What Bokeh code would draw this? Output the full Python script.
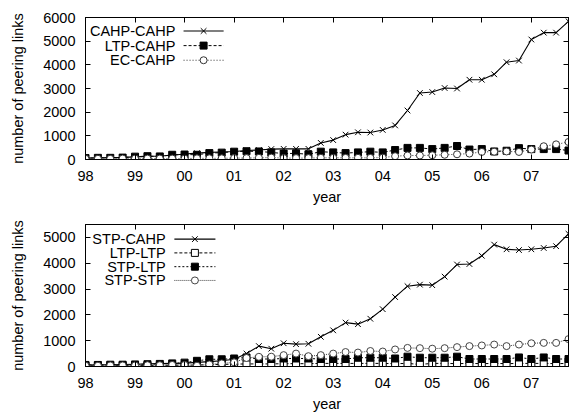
from bokeh.plotting import figure
from bokeh.layouts import column
from bokeh.models import (Range1d, FixedTicker, LinearAxis, Label,
                          CustomLabelingPolicy)
from bokeh.embed import file_html
from bokeh.resources import INLINE

# quarterly samples, 1998 .. 2007.75
quarters = [1998 + i / 4 for i in range(40)]
year_ticks = list(range(1998, 2008))
year_labels = ["98", "99", "00", "01", "02", "03", "04", "05", "06", "07"]

top_yticks = [0, 1000, 2000, 3000, 4000, 5000, 6000]
bottom_yticks = [0, 1000, 2000, 3000, 4000, 5000]

# upper panel
cahp_cahp = [60, 70, 80, 90, 110, 130, 150, 180, 230, 270,
             300, 320, 340, 380, 400, 440, 450, 450, 450, 700,
             820, 1050, 1150, 1140, 1250, 1440, 2070, 2810, 2850, 3020,
             3000, 3370, 3370, 3600, 4110, 4180, 5070, 5360, 5360, 5840]
ltp_cahp = [60, 70, 70, 80, 120, 140, 130, 200, 210, 200,
            270, 290, 330, 350, 340, 300, 250, 260, 220, 330,
            300, 270, 300, 330, 300, 400, 490, 490, 440, 490,
            570, 420, 440, 340, 370, 480, 440, 440, 440, 380]
ec_cahp = [30, 30, 30, 40, 40, 40, 40, 40, 40, 50,
           50, 50, 60, 60, 70, 80, 60, 60, 60, 70,
           70, 70, 70, 70, 80, 140, 170, 170, 180, 200,
           220, 250, 320, 330, 340, 320, 420, 560, 640, 740]

# lower panel
stp_cahp = [60, 70, 70, 80, 90, 100, 110, 120, 130, 160,
            190, 220, 280, 500, 790, 690, 900, 865, 880, 1150,
            1400, 1700, 1640, 1850, 2220, 2690, 3110, 3170, 3150, 3480,
            3950, 3970, 4290, 4720, 4540, 4510, 4540, 4590, 4660, 5140]
ltp_ltp = [30, 30, 30, 40, 40, 40, 40, 50, 50, 60,
           70, 80, 90, 100, 100, 100, 110, 110, 110, 120,
           120, 120, 120, 120, 120, 110, 120, 80, 120, 120,
           110, 120, 110, 120, 110, 120, 120, 120, 110, 120]
stp_ltp = [60, 60, 70, 70, 80, 90, 100, 120, 150, 220,
           280, 280, 310, 350, 290, 290, 310, 310, 310, 290,
           290, 290, 340, 340, 340, 310, 380, 340, 340, 340,
           380, 290, 290, 290, 290, 350, 290, 350, 290, 290]
stp_stp = [30, 30, 40, 40, 40, 50, 50, 60, 60, 30,
           80, 120, 160, 330, 375, 380, 440, 500, 400, 440,
           500, 560, 540, 600, 580, 660, 720, 710, 690, 710,
           750, 790, 815, 850, 790, 850, 900, 915, 915, 1060]

FONT = "Liberation Sans"
FS = "14.5px"

# mirrored border axes carry tick marks only, no labels
NO_LABELS = """
try { indices.clear() } catch (e) {
    for (let i = 0; i < indices.size; i++) {
        try { indices.unset(i) } catch (e2) { indices.set(i, false) }
    }
}
return indices
"""


def make_panel(ymax, yticks, border_bottom, height):
    p = figure(width=569, height=height,
               x_range=Range1d(1998, 2007.75), y_range=Range1d(0, ymax),
               min_border_left=85, min_border_right=1, min_border_top=17,
               min_border_bottom=border_bottom,
               output_backend="svg", toolbar_location=None)
    p.grid.visible = False
    p.outline_line_color = "black"
    p.background_fill_color = "white"
    p.border_fill_color = "white"

    xa = p.xaxis[0]
    xa.ticker = FixedTicker(ticks=year_ticks)
    xa.major_label_overrides = dict(zip(year_ticks, year_labels))
    xa.axis_label = "year"
    xa.axis_label_standoff = 5
    xa.major_label_standoff = 11

    ya = p.yaxis[0]
    ya.ticker = FixedTicker(ticks=yticks)
    ya.axis_label = "number of peering links"
    ya.axis_label_standoff = 14
    ya.major_label_standoff = 10

    for ax in (xa, ya):
        ax.major_tick_in = 5
        ax.major_tick_out = 0
        ax.minor_tick_line_color = None
        ax.axis_line_color = "black"
        ax.major_tick_line_color = "black"
        ax.major_label_text_font = FONT
        ax.major_label_text_font_size = FS
        ax.major_label_text_color = "black"
        ax.major_label_text_line_height = 1.0
        ax.axis_label_text_font = FONT
        ax.axis_label_text_font_size = FS
        ax.axis_label_text_font_style = "normal"
        ax.axis_label_text_color = "black"
        ax.axis_label_text_line_height = 1.0

    top = LinearAxis(ticker=FixedTicker(ticks=year_ticks))
    right = LinearAxis(ticker=FixedTicker(ticks=yticks))
    for ax in (top, right):
        ax.major_tick_in = 5
        ax.major_tick_out = 0
        ax.minor_tick_line_color = None
        ax.major_label_text_font_size = "0px"
        ax.major_label_policy = CustomLabelingPolicy(code=NO_LABELS)
        ax.major_label_standoff = 0
        ax.axis_line_color = "black"
    p.add_layout(top, "above")
    p.add_layout(right, "right")
    return p


def draw_series(p, ys, dash, marker, fill, color, lw):
    p.line(quarters, ys, line_color=color, line_width=lw, line_dash=dash)
    p.scatter(quarters, ys, marker=marker, size=7 if marker != "x" else 8,
              line_color=color, fill_color=fill, line_width=1)


def legend_entry(p, fy, text, dash, marker, fill, color, lw, fx_text, fx0, fx1):
    xr, yr = p.x_range, p.y_range
    fx = lambda f: xr.start + f * (xr.end - xr.start)
    y = yr.start + fy * (yr.end - yr.start)
    p.add_layout(Label(x=fx(fx_text), y=y, text=text, text_align="right",
                       text_baseline="middle", text_font=FONT,
                       text_font_size=FS, text_color="black"))
    p.line([fx(fx0), fx(fx1)], [y, y], line_color=color, line_width=lw,
           line_dash=dash)
    p.scatter([fx((fx0 + fx1) / 2)], [y], marker=marker,
              size=7 if marker != "x" else 8, line_color=color,
              fill_color=fill, line_width=1)


# ---- upper panel ----
p1 = make_panel(6000, top_yticks, 45, 207)
upper = [
    ("CAHP-CAHP", cahp_cahp, "solid", "x", None, "black", 1.1),
    ("LTP-CAHP", ltp_cahp, "3 2", "square", "black", "black", 1),
    ("EC-CAHP", ec_cahp, "1 2", "circle", "white", "#333333", 1),
]
for name, ys, dash, mk, fill, col, lw in upper:
    draw_series(p1, ys, dash, mk, fill, col, lw)
for k, (name, ys, dash, mk, fill, col, lw) in enumerate(upper):
    legend_entry(p1, 0.905 - 0.103 * k, name, dash, mk, fill, col, lw,
                 0.186, 0.203, 0.286)

# ---- lower panel ----
p2 = make_panel(5500, bottom_yticks, 44, 207)
lower = [
    ("STP-CAHP", stp_cahp, "solid", "x", None, "black", 1.1),
    ("LTP-LTP", ltp_ltp, "3 2", "square", "white", "black", 1),
    ("STP-LTP", stp_ltp, "2 2", "square", "black", "black", 1),
    ("STP-STP", stp_stp, "1 1", "circle", "white", "#444444", 1),
]
for name, ys, dash, mk, fill, col, lw in lower:
    draw_series(p2, ys, dash, mk, fill, col, lw)
for k, (name, ys, dash, mk, fill, col, lw) in enumerate(lower):
    legend_entry(p2, 0.897 - 0.097 * k, name, dash, mk, fill, col, lw,
                 0.166, 0.184, 0.269)

layout = column(p1, p2, spacing=0)
open("out.html", "w").write(file_html(layout, INLINE))
